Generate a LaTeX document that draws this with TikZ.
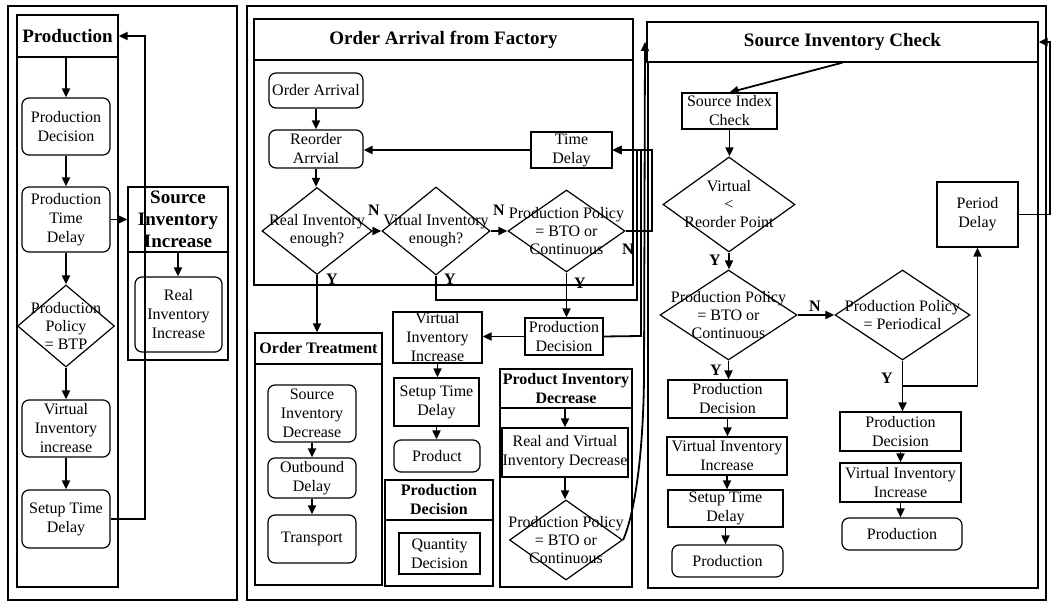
\documentclass[tikz,border=0pt]{standalone}
\usepackage{fontspec}
\setmainfont{Liberation Serif}
\usetikzlibrary{shapes.geometric,arrows.meta}

% box from corner (x1,y1) to corner (x2,y2): style, name, x1, y1, x2, y2, text
\newcommand\mkbox[7]{\node[#1, minimum width={#5-#3}, minimum height={#6-#4}] (#2) at ({(#3+#5)/2},{(#4+#6)/2}) {#7};}
% decision diamond: name, cx, cy, width, height, text
\newcommand\mkdia[6]{\node[dia, minimum width=#4, minimum height=#5, label={[dtext]center:{#6}}] (#1) at (#2,#3) {};}
% straight vertical arrow from the bottom of one node to the top of the next
\newcommand\vdown[2]{\draw[arr] (#1.south) -- (#1.south |- #2.north);}

\tikzset{
  txt/.style={font=\fontsize{16}{19}\selectfont, align=center},
  box/.style={draw, line width=1.2pt, inner sep=0pt, txt},
  rbox/.style={box, rounded corners=7pt},
  frame/.style={draw, line width=1.3pt, inner sep=0pt},
  head/.style={frame, font=\bfseries\fontsize{19}{22}\selectfont, align=center},
  subhead/.style={frame, font=\bfseries\fontsize{16}{19}\selectfont, align=center},
  outer/.style={draw, line width=2.4pt, inner sep=0pt},
  dia/.style={draw, diamond, line width=1.2pt, inner sep=0pt},
  dtext/.style={font=\fontsize{16}{18}\selectfont, align=center, inner sep=0pt},
  arr/.style={line width=1.8pt, -{Triangle[length=9pt,width=8pt]}},
  conn/.style={line width=1.8pt},
  yn/.style={font=\bfseries\fontsize{16}{16}\selectfont, inner sep=0pt},
}

\begin{document}
\begin{tikzpicture}[x=1pt,y=-1pt]
\useasboundingbox (0,0) rectangle (1053,604);

% ---------- outer panels ----------
\mkbox{outer}{panelL}{8}{6}{237}{600}{}
\mkbox{outer}{panelR}{247}{6}{1046}{600}{}

% ---------- production ----------
\mkbox{frame}{prodBody}{17}{57}{118}{587}{}
\mkbox{head}{prodHead}{17}{15}{118}{57}{Production}
\mkbox{rbox}{pd1}{22}{98}{110}{155}{Production\\Decision}
\mkbox{rbox}{ptd}{22}{187}{110}{252}{Production\\Time\\Delay}
\mkdia{dBTP}{66}{326}{97}{82}{Production\\Policy\\= BTP}
\mkbox{rbox}{vii}{22}{400}{110}{457}{Virtual\\Inventory\\increase}
\mkbox{rbox}{std}{22}{490}{110}{548}{Setup Time\\Delay}

\mkbox{frame}{siBody}{128}{252}{228}{360}{}
\mkbox{head}{siHead}{128}{187}{228}{252}{Source\\Inventory\\Increase}
\mkbox{rbox}{rii}{135}{277}{222}{352}{Real\\Inventory\\Increase}

\draw[arr] (pd1.north |- prodHead.south) -- (pd1.north);
\vdown{pd1}{ptd}
\vdown{ptd}{dBTP}
\vdown{dBTP}{vii}
\vdown{vii}{std}
\draw[arr] (ptd.east) -- (siHead.west);
\vdown{siHead}{rii}
\coordinate (loopL) at (145,36);
\draw[arr] (std.east) -| (loopL) -- (prodHead.east);

% ---------- order arrival from factory ----------
\mkbox{frame}{oaBody}{254}{60}{633}{285}{}
\mkbox{head}{oaHead}{254}{19}{633}{60}{Order Arrival from Factory}
\mkbox{rbox}{oa}{269}{73}{363}{108}{Order Arrival}
\mkbox{rbox}{ra}{269}{130}{363}{168}{Reorder\\Arrvial}
\mkbox{box}{td}{531}{132}{612}{168}{Time\\Delay}
\mkdia{d1}{317}{231}{110}{87}{Real Inventory\\enough?}
\mkdia{d2}{436}{231}{108}{88}{Vitual Inventory\\enough?}
\mkdia{d3}{566.5}{231}{117}{82}{Production Policy\\= BTO or\\Continuous}

\node[yn] (n1) at (374,210) {N};
\node[yn] (n2) at (499,210) {N};
\node[yn] (n3) at (628,249) {N};
\node[yn] (y1) at (332,279) {Y};
\node[yn] (y2) at (450,279) {Y};
\node[yn] (y3) at (580,283) {Y};

\vdown{oa}{ra}
\vdown{ra}{d1}
\draw[arr] (td.west) -- (td.west -| ra.east);
\draw[arr] (d1.east) -- (d2.west);
\draw[arr] (d2.east) -- (d3.west);

% ---------- order treatment ----------
\mkbox{frame}{otBody}{255}{364}{382}{585}{}
\mkbox{subhead}{otHead}{255}{333}{382}{364}{Order Treatment}
\mkbox{rbox}{sid}{268}{385}{356}{442}{Source\\Inventory\\Decrease}
\mkbox{rbox}{obd}{268}{458}{356}{498}{Outbound\\Delay}
\mkbox{rbox}{tr}{268}{515}{356}{563}{Transport}
\draw[arr] (d1.south) -- (d1.south |- otHead.north);
\vdown{sid}{obd}
\vdown{obd}{tr}

% ---------- production branch ----------
\mkbox{box}{pd2}{525}{318}{603}{355}{Production\\Decision}
\mkbox{box}{vii2}{393}{312}{482}{363}{Virtual\\Inventory\\Increase}
\mkbox{box}{std2}{394}{378}{479}{426}{Setup Time\\Delay}
\mkbox{rbox}{prd}{394}{440}{480}{472}{Product}
\draw[arr] (d3.south) -- (d3.south |- pd2.north);
\draw[arr] (pd2.west) -- (pd2.west -| vii2.east);
\vdown{vii2}{std2}
\vdown{std2}{prd}

\mkbox{frame}{pdBody}{385}{520}{493}{586}{}
\mkbox{subhead}{pdHead}{385}{480}{493}{520}{Production\\Decision}
\mkbox{box}{qd}{399}{533}{480}{574}{Quantity\\Decision}

% ---------- product inventory decrease ----------
\mkbox{frame}{pidBody}{500}{408}{632}{587}{}
\mkbox{subhead}{pidHead}{500}{369}{632}{408}{Product Inventory\\Decrease}
\mkbox{box}{rvid}{502}{428}{628}{477}{Real and Virtual\\Inventory Decrease}
\mkdia{d4}{566}{540}{113}{80}{Production Policy\\= BTO or\\Continuous}
\draw[arr] (pidHead.south -| rvid.north) -- (rvid.north);
\vdown{rvid}{d4}

% ---------- source inventory check ----------
\mkbox{frame}{sicBody}{648}{62}{1038}{588}{}
\mkbox{head}{sicHead}{647}{22}{1038}{62}{Source Inventory Check}
\mkbox{box}{sic}{682}{93}{777}{129}{Source Index\\Check}
\mkdia{d5}{729}{204.5}{132}{95}{Virtual\\<\\Reorder Point}
\mkdia{d6}{728.5}{315}{137}{90}{Production Policy\\= BTO or\\Continuous}
\mkdia{d7}{902.5}{315}{135}{90}{Production Policy\\= Periodical}
\mkbox{box}{pdl}{937}{182}{1018}{247}{Period\\Delay}
\mkbox{box}{pd3}{668}{380}{787}{418}{Production\\Decision}
\mkbox{box}{vii3}{667}{437}{787}{475}{Virtual Inventory\\Increase}
\mkbox{box}{std3}{668}{490}{783}{527}{Setup Time\\Delay}
\mkbox{rbox}{pr3}{672}{545}{783}{577}{Production}
\mkbox{box}{pd4}{840}{412}{961}{451}{Production\\Decision}
\mkbox{box}{vii4}{840}{463}{961}{502}{Virtual Inventory\\Increase}
\mkbox{rbox}{pr4}{842}{518}{962}{550}{Production}

\node[yn] (y4) at (715,260) {Y};
\node[yn] (y5) at (716,370) {Y};
\node[yn] (n4) at (815,306) {N};
\node[yn] (y6) at (887,378) {Y};

\draw[arr] (sicHead.south) -- (sic.north);
\vdown{sic}{d5}
\draw[arr] (d5.south) -- (d5.south |- d6.north);
\draw[arr] (d6.south) -- (d6.south |- pd3.north);
\draw[arr] (pd3.south) -- (pd3.south |- vii3.north);
\draw[arr] (vii3.south) -- (vii3.south |- std3.north);
\draw[arr] (std3.south) -- (std3.south |- pr3.north);
\draw[arr] (d6.east) -- (d7.west);
\draw[arr] (d7.south) -- (d7.south |- pd4.north);
\draw[arr] (pd4.south) -- (pd4.south |- vii4.north);
\draw[arr] (vii4.south) -- (vii4.south |- pr4.north);
\coordinate (brP) at (902.5,386);
\draw[arr] (brP) -| (pdl.south);
\coordinate (loopR) at (1050,42);
\draw[arr] (pdl.east) -| (loopR) -- (sicHead.east);

% ---------- return paths to the time delay and the source check ----------
\coordinate (r1) at (637,300);
\coordinate (r2) at (652,231);
\coordinate (r3) at (641,336);
\coordinate (r4) at (645,42);
\draw[arr] (d2.south) |- (r1) |- (td.east);
\draw[arr] (pd2.east) -- (r3) |- (td.east);
\draw[arr] (d3.east) -- (r2) |- (td.east);
\draw[arr] (d4.east) .. controls (636,510) and (643,450) .. (644,380) -- (r4);
\end{tikzpicture}
\end{document}
